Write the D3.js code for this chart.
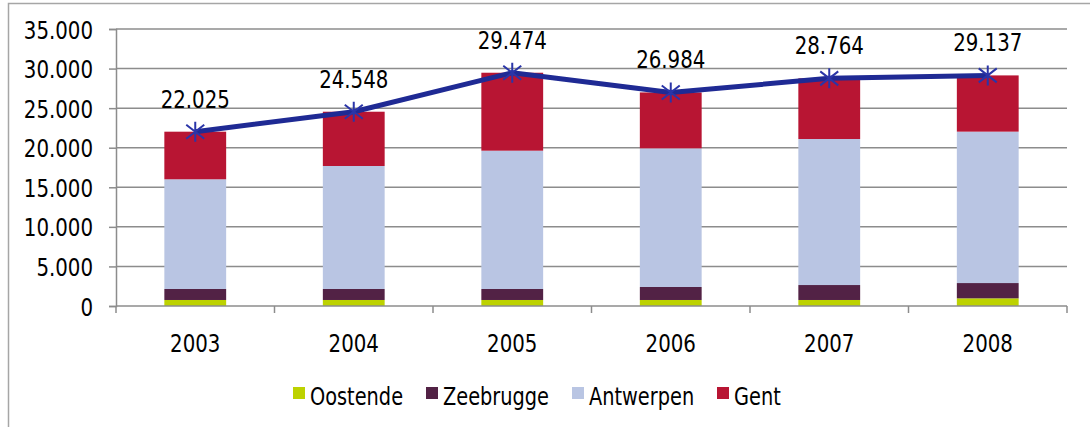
<!DOCTYPE html>
<html>
<head>
<meta charset="utf-8">
<script src="https://cdn.jsdelivr.net/npm/d3@7"></script>
<style>
  html, body { margin: 0; padding: 0; background: #fff; }
  svg { display: block; }
  text { font-family: "DejaVu Sans Condensed", "DejaVu Sans", sans-serif; fill: #000; }
</style>
</head>
<body>
<svg id="chart" width="1090" height="427"></svg>
<script>
// Yearly throughput per port (stacked) and the total across all ports
const years = ["2003", "2004", "2005", "2006", "2007", "2008"];
const oostende  = [760, 760, 760, 760, 760, 970];
const zeebrugge = [1390, 1390, 1390, 1640, 1890, 1930];
const antwerpen = [13860, 15540, 17475, 17520, 18450, 19130];
const gent      = [6015, 6858, 9849, 7064, 7664, 7107];
const totals    = [22025, 24548, 29474, 26984, 28764, 29137];
const yTicks    = [0, 5000, 10000, 15000, 20000, 25000, 30000, 35000];

const seriesNames  = ["Oostende", "Zeebrugge", "Antwerpen", "Gent"];
const seriesColors = ["#bdd200", "#522245", "#b9c5e3", "#b81533"];

const fmt = v => d3.format(",")(v).replace(/,/g, ".");
const SY = 1.14; // vertical stretch of the tall, narrow lettering

const svg = d3.select("#chart");

// outer chart frame
svg.append("rect")
  .attr("x", 8.5).attr("y", 3.5)
  .attr("width", 1200).attr("height", 500)
  .attr("fill", "none").attr("stroke", "#a6a6a6").attr("stroke-width", 1.5);

const plot = { left: 116, right: 1067, top: 29, bottom: 306 };

const x = d3.scaleBand().domain(years).range([plot.left, plot.right]).paddingInner(0.61).paddingOuter(0.305);
const xc = d3.scaleBand().domain(years).range([plot.left, plot.right]);
const y = d3.scaleLinear().domain([0, 35000]).range([plot.bottom, plot.top]);

// horizontal gridlines
svg.append("g").selectAll("line").data(yTicks.slice(1)).join("line")
  .attr("x1", plot.left).attr("x2", plot.right)
  .attr("y1", d => y(d)).attr("y2", d => y(d))
  .attr("stroke", "#8c8c8c").attr("stroke-width", 1.5);

// y axis
const yAxis = svg.append("g").attr("transform", `translate(${plot.left},0)`)
  .call(d3.axisLeft(y).tickValues(yTicks).tickSize(7).tickPadding(0).tickFormat(fmt));
yAxis.select(".domain").attr("stroke", "#8c8c8c").attr("stroke-width", 1.5);
yAxis.selectAll(".tick line").attr("stroke", "#8c8c8c").attr("stroke-width", 1.5);
yAxis.selectAll(".tick text")
  .attr("x", -23).attr("dy", null).attr("y", 9 / SY)
  .attr("transform", `scale(1,${SY})`)
  .style("font-size", "22px").style("font-family", null);

// stacked bars
const rows = years.map((yr, i) => ({
  year: yr,
  Oostende: oostende[i], Zeebrugge: zeebrugge[i], Antwerpen: antwerpen[i], Gent: gent[i]
}));
const stacked = d3.stack().keys(seriesNames)(rows);

svg.append("g").selectAll("g").data(stacked).join("g")
  .attr("fill", (d, i) => seriesColors[i])
  .selectAll("rect").data(d => d).join("rect")
  .attr("x", d => x(d.data.year))
  .attr("width", x.bandwidth())
  .attr("y", d => y(d[1]))
  .attr("height", d => y(d[0]) - y(d[1]));

// x axis
const xAxis = svg.append("g").attr("transform", `translate(0,${plot.bottom})`)
  .call(d3.axisBottom(xc).tickSize(0).tickPadding(0));
xAxis.select(".domain").remove();
svg.append("line")
  .attr("x1", plot.left).attr("x2", plot.right)
  .attr("y1", plot.bottom).attr("y2", plot.bottom)
  .attr("stroke", "#8c8c8c").attr("stroke-width", 1.5);
// category separators
svg.append("g").selectAll("line").data(years.concat(["end"])).join("line")
  .attr("x1", (d, i) => i < years.length ? xc(d) : plot.right)
  .attr("x2", (d, i) => i < years.length ? xc(d) : plot.right)
  .attr("y1", plot.bottom).attr("y2", plot.bottom + 7)
  .attr("stroke", "#8c8c8c").attr("stroke-width", 1.5);
xAxis.selectAll(".tick text")
  .attr("dy", null).attr("y", 46 / SY)
  .attr("transform", `scale(1,${SY})`)
  .style("font-size", "22px").style("font-family", null);

// total line
const cx = d => xc(d) + xc.bandwidth() / 2;
const pts = years.map((yr, i) => [cx(yr), y(totals[i])]);
svg.append("path")
  .attr("d", d3.line()(pts))
  .attr("fill", "none").attr("stroke", "#1f2a94").attr("stroke-width", 5)
  .attr("stroke-linejoin", "round");

// star markers
const starPath = "M0,-10V10M-9,-7L9,7M-9,7L9,-7";
svg.append("g").selectAll("path").data(pts).join("path")
  .attr("transform", d => `translate(${d[0]},${d[1]})`)
  .attr("d", starPath)
  .attr("stroke", "#2a35a8").attr("stroke-width", 2).attr("fill", "none");

// value labels
svg.append("g").selectAll("text").data(years).join("text")
  .attr("text-anchor", "middle")
  .attr("transform", (d, i) => `translate(${cx(d)},${y(totals[i]) - 24}) scale(1,${SY})`)
  .style("font-size", "22px")
  .text((d, i) => fmt(totals[i]));

// legend
const legendX = [293, 426, 572, 717];
const legend = svg.append("g").selectAll("g").data(seriesNames).join("g")
  .attr("transform", (d, i) => `translate(${legendX[i]},387)`);
legend.append("rect").attr("width", 12).attr("height", 12)
  .attr("fill", (d, i) => seriesColors[i]);
legend.append("text")
  .attr("transform", `translate(17,18) scale(1,${SY})`)
  .style("font-size", "21.5px")
  .text(d => d);
</script>
</body>
</html>
